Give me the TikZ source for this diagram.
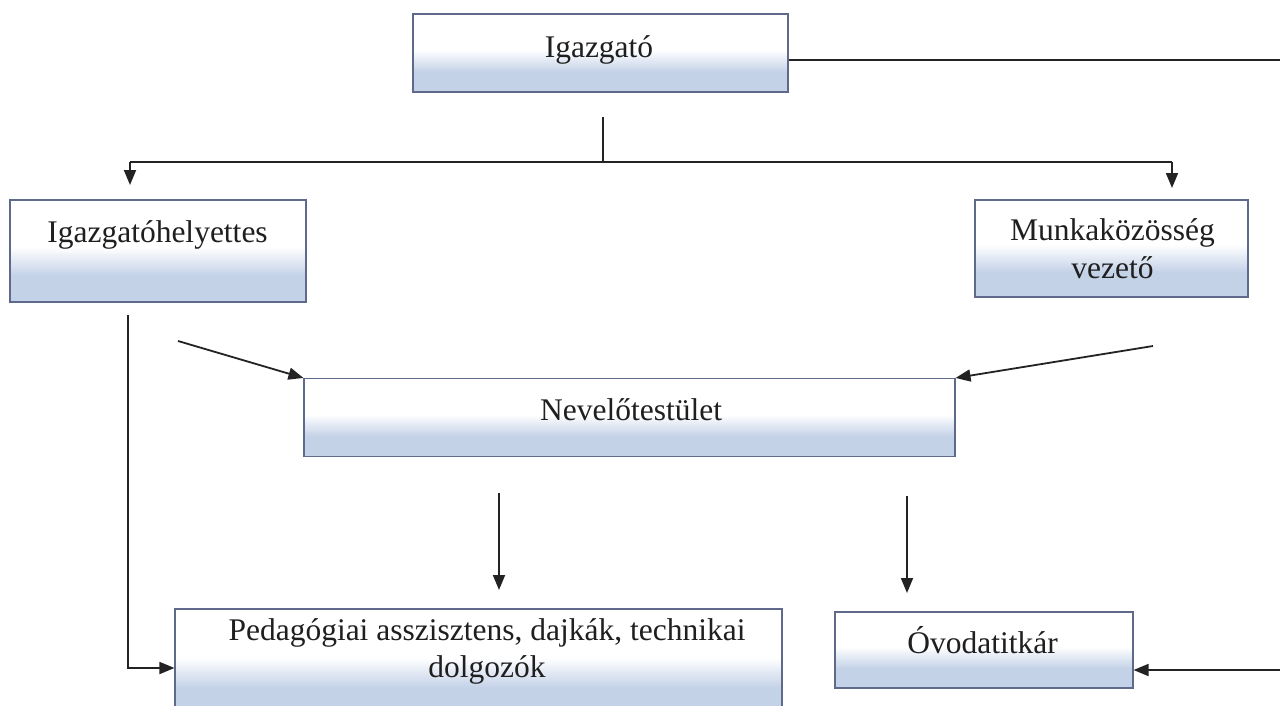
\documentclass[tikz,border=0pt]{standalone}
\usepackage{fontspec}
\setmainfont{Liberation Serif}
\usetikzlibrary{arrows.meta}
\definecolor{boxblue}{RGB}{196,210,232}
\definecolor{boxline}{RGB}{95,105,140}
\definecolor{conn}{RGB}{35,35,35}
\pgfdeclareverticalshading{boxshade}{100bp}{color(0bp)=(boxblue); color(38bp)=(boxblue); color(52bp)=(white); color(100bp)=(white)}
\begin{document}
\begin{tikzpicture}[x=1pt,y=-1pt,
  box/.style={draw=boxline, line width=1.1pt, shading=boxshade, rectangle, inner sep=0pt},
  lbl/.style={font=\fontsize{31.5}{38}\selectfont, text=black!88, anchor=base, inner sep=0pt, align=center},
  conn/.style={draw=conn, line width=1.8pt},
  arr/.style={conn, -{Triangle[length=15pt,width=12pt]}}]
\useasboundingbox (0,0) rectangle (1280,705);
% boxes
\node[box, minimum width=375pt, minimum height=78pt] (ig) at (600.5,53) {};
\node[box, minimum width=296pt, minimum height=102pt] (ih) at (158,251) {};
\node[box, minimum width=273pt, minimum height=97pt] (mk) at (1111.5,248.5) {};
\node[box, minimum width=651pt, minimum height=78pt] (nv) at (629.5,417.5) {};
\node[box, minimum width=607pt, minimum height=106pt] (pd) at (478.5,662) {};
\node[box, minimum width=298pt, minimum height=76pt] (ov) at (984,650) {};
% labels
\node[lbl] (igt) at (599,57) {Igazgató};
\node[lbl] (iht) at (157.5,242) {Igazgatóhelyettes};
\node[lbl] (mkt1) at (1112.5,240) {Munkaközösség};
\node[lbl] (mkt2) at (1112.5,278) {vezető};
\node[lbl] (nvt) at (631,420) {Nevelőtestület};
\node[lbl] (pdt1) at (487,640) {Pedagógiai asszisztens, dajkák, technikai};
\node[lbl] (pdt2) at (487,677) {dolgozók};
\node[lbl] (ovt) at (982.5,653) {Óvodatitkár};
% coordinates
\coordinate (t1) at (603,117);
\coordinate (t2) at (603,162);
\coordinate (hl) at (130,162);
\coordinate (hr) at (1172,162);
\coordinate (ihtip) at (130,185);
\coordinate (mktip) at (1172,188);
\coordinate (r1) at (1284,60);
\coordinate (r2) at (1284,670);
\coordinate (l1) at (128,315);
\coordinate (l2) at (128,668);
\coordinate (d1) at (178,341);
\coordinate (d2) at (1153,346);
\coordinate (a1) at (499,493);
\coordinate (a1t) at (499,590);
\coordinate (a2) at (907,496);
\coordinate (a2t) at (907,593);
% connectors
\draw[conn] (t1) -- (t2);
\draw[conn] (hl) -- (hr);
\draw[arr] (hl) -- (ihtip);
\draw[arr] (hr) -- (mktip);
\draw[conn] (ig.east |- r1) -- (r1) -- (r2);
\draw[arr] (r2) -- (ov.east |- r2);
\draw[arr] (l1) -- (l2) -- (pd.west |- l2);
\draw[arr] (d1) -- (nv.north west);
\draw[arr] (d2) -- (nv.north east);
\draw[arr] (a1) -- (a1t);
\draw[arr] (a2) -- (a2t);
\end{tikzpicture}
\end{document}
